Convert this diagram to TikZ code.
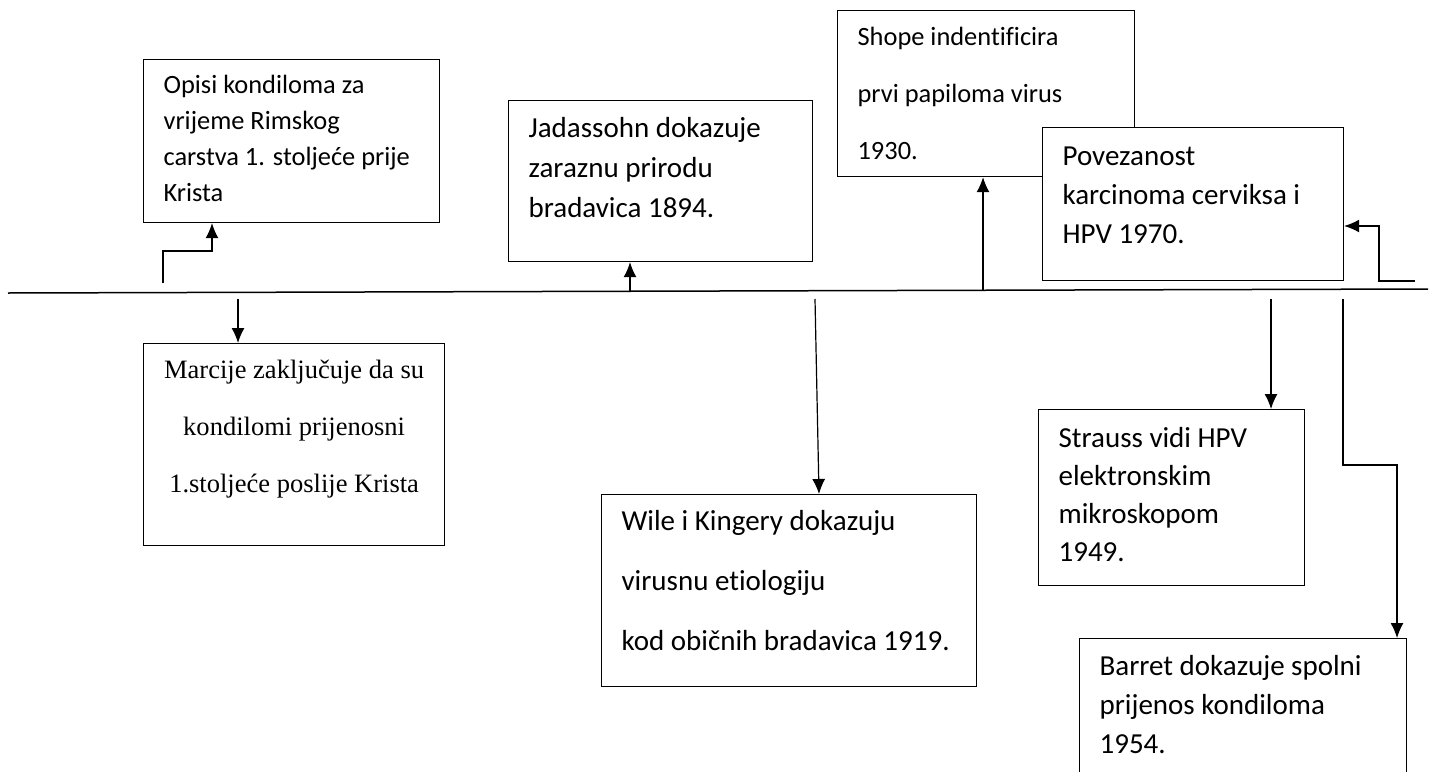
\documentclass[tikz,border=0pt]{standalone}
\usepackage{fontspec}
\setmainfont{Carlito}[Ligatures={NoCommon}]
\newfontfamily\timesfont{Liberation Serif}[Ligatures={NoCommon}]
\usetikzlibrary{arrows.meta}
\newcommand{\evtext}[4]{\parbox[t][#1][t]{#2}{\raggedright\rule{0pt}{#3}#4}}

\begin{document}
\begin{tikzpicture}[x=0.5pt,y=-0.5pt,line width=0.6pt,
  >={Latex[length=7.5pt,width=6.5pt]},
  event/.style={draw,fill=white,anchor=north west,inner xsep=10pt,inner ysep=0pt}]
\useasboundingbox (0,0) rectangle (1434,771);
\clip (0,0) rectangle (1434,771);
\coordinate (axl) at (8,293);
\coordinate (axr) at (1428,289);
\draw[line width=0.75pt] (axl) -- (axr);
\node[event,font=\fontsize{13.2pt}{18pt}\selectfont] (opisi) at (143,59) {\evtext{81.5pt}{128pt}{17pt}{Opisi kondiloma za\\vrijeme Rimskog\\carstva 1. stoljeće prije\\Krista}};
\node[event,font=\fontsize{14.5pt}{20pt}\selectfont] (jadassohn) at (508,100) {\evtext{80.5pt}{132pt}{18.5pt}{Jadassohn dokazuje\\zaraznu prirodu\\bradavica 1894.}};
\node[event,font=\fontsize{13.2pt}{28.5pt}\selectfont] (shope) at (837,10) {\evtext{83pt}{128.5pt}{17.5pt}{Shope indentificira\\prvi papiloma virus\\1930.}};
\node[event,font=\fontsize{14.5pt}{19.5pt}\selectfont] (povezanost) at (1042,127) {\evtext{76.5pt}{130.5pt}{19pt}{Povezanost\\karcinoma cerviksa i\\HPV 1970.}};
\node[event,font=\timesfont\fontsize{13.26pt}{28.5pt}\selectfont] (marcije) at (143,343) {\evtext{101pt}{130.5pt}{17.5pt}{\centering Marcije zaključuje da su\\kondilomi prijenosni\\1.stoljeće poslije Krista}};
\node[event,font=\fontsize{14.5pt}{30pt}\selectfont] (wile) at (601,494) {\evtext{96pt}{167.5pt}{18pt}{Wile i Kingery dokazuju\\virusnu etiologiju\\kod običnih bradavica 1919.}};
\node[event,font=\fontsize{14.5pt}{19pt}\selectfont] (strauss) at (1038,409) {\evtext{88pt}{113pt}{19pt}{Strauss vidi HPV\\elektronskim\\mikroskopom\\1949.}};
\node[event,font=\fontsize{14.5pt}{19.5pt}\selectfont] (barret) at (1079,638) {\evtext{150pt}{143.5pt}{18.5pt}{Barret dokazuje spolni\\prijenos kondiloma\\1954.}};
\coordinate (o1) at (163,283);
\coordinate (o2) at (212,251);
\draw[->] (o1) |- (o2) -- (o2 |- opisi.south);
\coordinate (j1) at (630,292);
\draw[->] (j1) -- (j1 |- jadassohn.south);
\coordinate (s1) at (983,290);
\draw[->] (s1) -- (s1 |- shope.south);
\coordinate (p1) at (1415,281);
\coordinate (p2) at (1379,226);
\draw[->] (p1) -| (p2) -- (p2 -| povezanost.east);
\coordinate (m1) at (238,299);
\draw[->] (m1) -- (m1 |- marcije.north);
\coordinate (w1) at (815,299);
\coordinate (w2) at (819,299);
\draw[->] (w1) -- (w2 |- wile.north);
\coordinate (t1) at (1271,299);
\draw[->] (t1) -- (t1 |- strauss.north);
\coordinate (b1) at (1343,299);
\coordinate (b2) at (1397,465);
\draw[->] (b1) |- (b2) -- (b2 |- barret.north);
\end{tikzpicture}
\end{document}
